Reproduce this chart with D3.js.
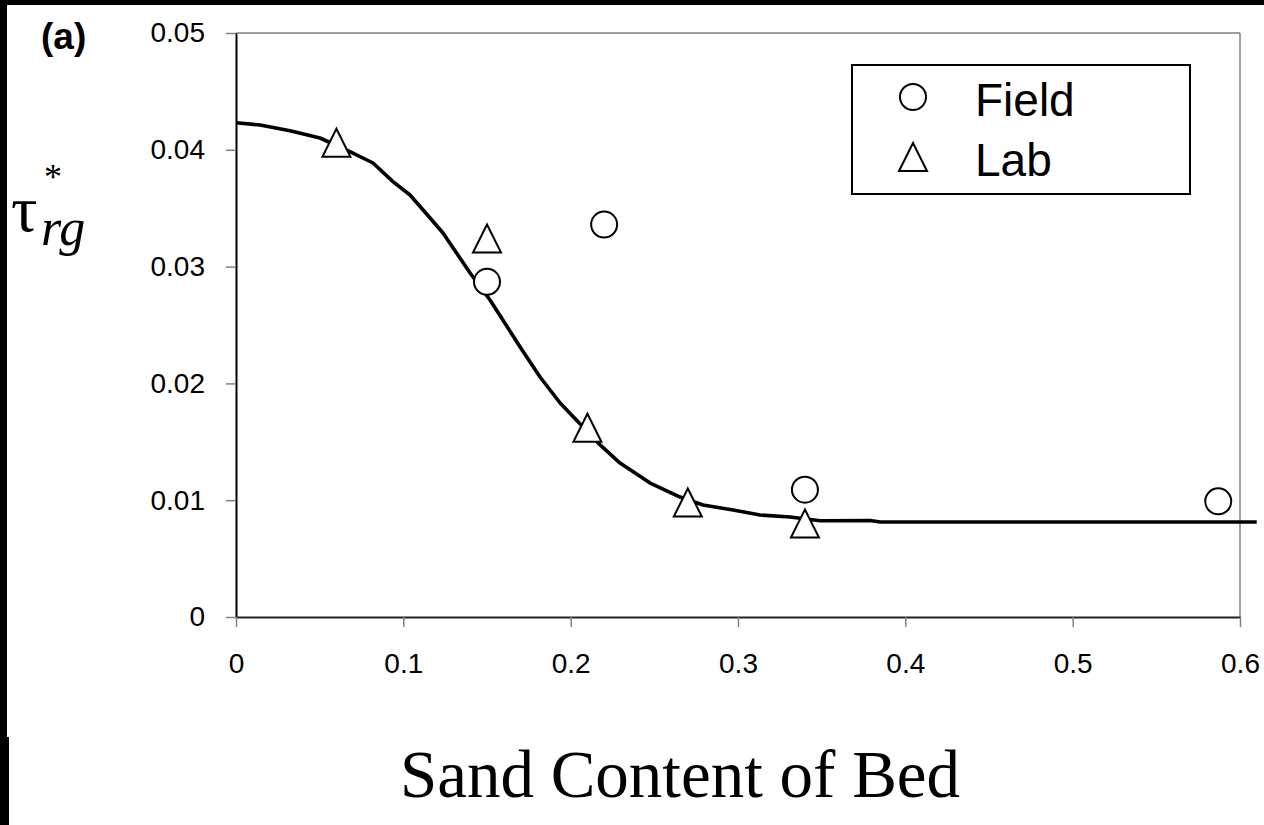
<!DOCTYPE html>
<html>
<head>
<meta charset="utf-8">
<script src="https://cdn.jsdelivr.net/npm/d3@7"></script>
<style>
  html, body { margin: 0; padding: 0; background: #fff; }
  svg { display: block; }
</style>
</head>
<body>
<script>
// ---- data ----
const fieldX = [0.15, 0.22, 0.34, 0.587];
const fieldY = [0.0287, 0.0336, 0.0109, 0.0099];
const labX = [0.06, 0.15, 0.21, 0.27, 0.34];
const labY = [0.0406, 0.0324, 0.0162, 0.0098, 0.0080];
const curveX = [0, 0.0144, 0.0323, 0.0502, 0.0681, 0.0819, 0.0938, 0.104, 0.116, 0.1237, 0.1399, 0.1518, 0.1698, 0.1817, 0.1937, 0.2074, 0.2176, 0.2295, 0.2475, 0.2654, 0.2791, 0.2971, 0.3132, 0.3311, 0.3491, 0.379, 0.385, 0.61];
const curveY = [0.04232, 0.04212, 0.04163, 0.04101, 0.03984, 0.03887, 0.03727, 0.03613, 0.03416, 0.03288, 0.02945, 0.02714, 0.02312, 0.02055, 0.01832, 0.01627, 0.01473, 0.01318, 0.01147, 0.01027, 0.00959, 0.00916, 0.00873, 0.00856, 0.00824, 0.00826, 0.00813, 0.00813];
const xTicks = [0, 0.1, 0.2, 0.3, 0.4, 0.5, 0.6];
const xTickLabels = ["0", "0.1", "0.2", "0.3", "0.4", "0.5", "0.6"];
const yTicks = [0, 0.01, 0.02, 0.03, 0.04, 0.05];
const yTickLabels = ["0", "0.01", "0.02", "0.03", "0.04", "0.05"];
const legendLabels = ["Field", "Lab"];

const W = 1264, H = 825;
const svg = d3.select("body").append("svg").attr("width", W).attr("height", H);
svg.append("rect").attr("width", W).attr("height", H).attr("fill", "#fff");
// black scan borders
svg.append("rect").attr("x", 0).attr("y", 0).attr("width", W).attr("height", 5).attr("fill", "#000");
svg.append("rect").attr("x", 0).attr("y", 0).attr("width", 7).attr("height", 737).attr("fill", "#000");
svg.append("rect").attr("x", 0).attr("y", 737).attr("width", 9).attr("height", H - 737).attr("fill", "#000");

const x = d3.scaleLinear().domain([0, 0.6]).range([236, 1240]);
const y = d3.scaleLinear().domain([0, 0.05]).range([617, 33]);

const font = "'Liberation Sans', Arial, sans-serif";

// plot area border (gray) top & right
svg.append("line").attr("x1", x(0)).attr("x2", x(0.6)).attr("y1", y(0.05)).attr("y2", y(0.05)).attr("stroke", "#808080").attr("stroke-width", 1.5);
svg.append("line").attr("x1", x(0.6)).attr("x2", x(0.6)).attr("y1", y(0.05)).attr("y2", y(0)).attr("stroke", "#808080").attr("stroke-width", 1.5);

// axes
const yAxis = d3.axisLeft(y).tickValues(yTicks).tickFormat((d, i) => yTickLabels[i]).tickSize(10).tickSizeOuter(0).tickPadding(21);
const gy = svg.append("g").attr("transform", `translate(${x(0)},0)`).call(yAxis);
gy.select(".domain").attr("stroke", "#000").attr("stroke-width", 2);
gy.selectAll(".tick line").attr("stroke", "#808080").attr("stroke-width", 1.5);
gy.selectAll(".tick text").attr("font-family", font).attr("font-size", 28).attr("fill", "#000");

const xAxis = d3.axisBottom(x).tickValues(xTicks).tickFormat((d, i) => xTickLabels[i]).tickSize(10).tickSizeOuter(0).tickPadding(26);
const gx = svg.append("g").attr("transform", `translate(0,${y(0)})`).call(xAxis);
gx.select(".domain").attr("stroke", "#222").attr("stroke-width", 2);
gx.selectAll(".tick line").attr("stroke", "#808080").attr("stroke-width", 1.5);
gx.selectAll(".tick text").attr("font-family", font).attr("font-size", 28).attr("fill", "#000");

// curve
const line = d3.line().x(d => x(d[0])).y(d => y(d[1])).curve(d3.curveLinear);
svg.append("path").datum(curveX.map((v, i) => [v, curveY[i]]))
  .attr("d", line).attr("fill", "none").attr("stroke", "#000").attr("stroke-width", 3.6).attr("stroke-linejoin", "round");

// markers
const R = 13;
function triPath(cx, cy, h) {
  return `M${cx},${cy - h}L${cx + h},${cy + h}L${cx - h},${cy + h}Z`;
}
svg.append("g").selectAll("circle").data(fieldX.map((v, i) => [v, fieldY[i]])).join("circle")
  .attr("cx", d => x(d[0])).attr("cy", d => y(d[1])).attr("r", R)
  .attr("fill", "#fff").attr("stroke", "#000").attr("stroke-width", 2);
svg.append("g").selectAll("path").data(labX.map((v, i) => [v, labY[i]])).join("path")
  .attr("d", d => triPath(x(d[0]), y(d[1]), 14))
  .attr("fill", "#fff").attr("stroke", "#000").attr("stroke-width", 2).attr("stroke-linejoin", "miter");

// legend
const lg = svg.append("g");
lg.append("rect").attr("x", 852).attr("y", 65).attr("width", 338).attr("height", 129)
  .attr("fill", "#fff").attr("stroke", "#000").attr("stroke-width", 2);
lg.append("circle").attr("cx", 913).attr("cy", 97).attr("r", R).attr("fill", "#fff").attr("stroke", "#000").attr("stroke-width", 2);
lg.append("path").attr("d", triPath(913, 157, 14)).attr("fill", "#fff").attr("stroke", "#000").attr("stroke-width", 2);
lg.selectAll("text").data(legendLabels).join("text")
  .attr("x", 975).attr("y", (d, i) => 116 + i * 60)
  .attr("font-family", font).attr("font-size", 46).attr("fill", "#000").text(d => d);

// panel label
svg.append("text").attr("x", 41).attr("y", 49).attr("font-family", font).attr("font-weight", "bold")
  .attr("font-size", 37).attr("fill", "#000").text("(a)");

// y-axis title tau*_rg
const serif = "'Liberation Serif', 'Times New Roman', serif";
const yt = svg.append("g").attr("font-family", serif).attr("fill", "#000");
yt.append("text").attr("x", 11).attr("y", 231).attr("font-size", 66).text("τ");
yt.append("text").attr("x", 44).attr("y", 189).attr("font-size", 36).text("*");
yt.append("text").attr("x", 41).attr("y", 245).attr("font-size", 52).attr("font-style", "italic").text("rg");

// x-axis title
svg.append("text").attr("x", 680).attr("y", 797).attr("text-anchor", "middle")
  .attr("font-family", serif).attr("font-size", 67).attr("fill", "#000").text("Sand Content of Bed");
</script>
</body>
</html>
